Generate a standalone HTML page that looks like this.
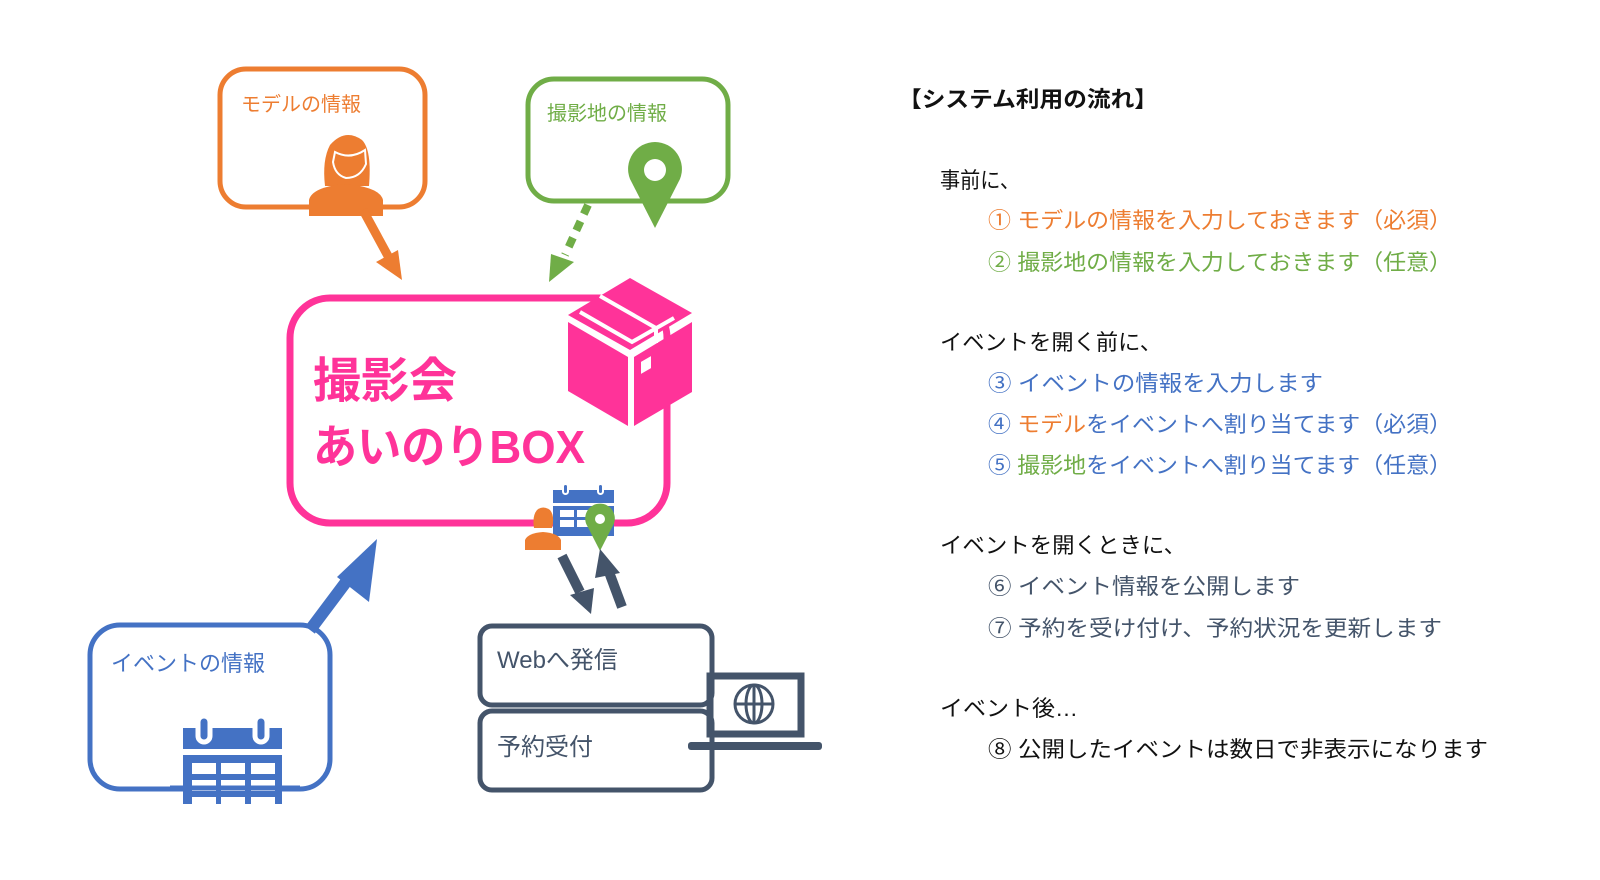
<!DOCTYPE html>
<html><head><meta charset="utf-8"><style>
html,body{margin:0;padding:0;background:#fff;width:1600px;height:880px;overflow:hidden}
svg{display:block}
text{font-family:"Liberation Sans","Noto Sans CJK JP",sans-serif}
</style></head><body>
<svg width="1600" height="880" viewBox="0 0 1600 880" xmlns="http://www.w3.org/2000/svg">
<defs>
<g id="pin"><path d="M0,-28 A27,27 0 0 1 25,9 L0,58 L-25,9 A27,27 0 0 1 0,-28 Z"/></g>
</defs>
<!-- Orange box -->
<rect x="220" y="69" width="205" height="138" rx="26" fill="none" stroke="#ED7D31" stroke-width="5"/>
<text x="241" y="111" font-size="20" fill="#ED7D31">モデルの情報</text>
<g fill="#ED7D31">
<path d="M325,186 Q322,160 330,145 Q345,128 362,140 Q372,150 369,186 Z"/>
<path d="M309,216 L309,200 Q312,187 345,184 Q380,187 383,200 L383,216 Z"/>
</g>
<path d="M335,152 Q350,160 365,150 L366,164 Q360,178 346,178 Q335,175 333,162 Z" fill="#ED7D31" stroke="#fff" stroke-width="2"/>
<!-- Green box -->
<rect x="528" y="79" width="200" height="122" rx="26" fill="none" stroke="#70AD47" stroke-width="5"/>
<text x="547" y="120" font-size="20" fill="#70AD47">撮影地の情報</text>
<g fill="#70AD47" transform="translate(655,170)"><use href="#pin"/></g>
<circle cx="655" cy="170" r="11" fill="#fff"/>
<!-- Orange arrow -->
<line x1="363" y1="210" x2="388" y2="256" stroke="#ED7D31" stroke-width="9"/>
<polygon points="402,280 376,262 398,250" fill="#ED7D31"/>
<!-- Green dashed arrow -->
<line x1="588" y1="205" x2="565" y2="255" stroke="#70AD47" stroke-width="8" stroke-dasharray="10,8"/>
<polygon points="549,282 551,254 574,262" fill="#70AD47"/>
<!-- Pink box -->
<rect x="290" y="298" width="377" height="225" rx="40" fill="none" stroke="#FF3399" stroke-width="7"/>
<text x="313" y="397" font-size="48" font-weight="bold" fill="#FF3399">撮影会</text>
<text x="313" y="463" font-size="46" font-weight="bold" fill="#FF3399" textLength="272" lengthAdjust="spacingAndGlyphs">あいのりBOX</text>
<!-- box icon -->
<g fill="#FF3399">
<polygon points="568,315 630,278 692,313 630,350"/>
<polygon points="568,322 628,357 628,426 568,391"/>
<polygon points="634,357 692,322 692,392 634,426"/>
</g>
<polyline points="580,312 632,342 674,318" fill="none" stroke="#fff" stroke-width="4"/>
<polyline points="600,296 656,328 656,343" fill="none" stroke="#fff" stroke-width="4"/>
<rect x="641" y="362" width="10" height="12" fill="#fff" transform="skewY(-30) translate(0,370)"/>
<!-- small calendar -->
<g fill="#4472C4">
<rect x="553" y="490" width="61" height="13"/>
<rect x="553" y="506" width="61" height="30"/>
</g>
<g fill="#fff">
<rect x="560" y="510" width="14" height="7"/><rect x="577" y="510" width="14" height="7"/><rect x="594" y="510" width="14" height="7"/>
<rect x="560" y="520" width="14" height="7"/><rect x="577" y="520" width="14" height="7"/><rect x="594" y="520" width="14" height="7"/>
</g>
<rect x="563" y="484" width="5" height="10" rx="2.5" fill="#4472C4" stroke="#fff" stroke-width="2"/>
<rect x="598" y="484" width="5" height="10" rx="2.5" fill="#4472C4" stroke="#fff" stroke-width="2"/>
<!-- small person -->
<g fill="#ED7D31">
<path d="M534,528 Q532,516 537,510 Q543,505 550,510 Q555,516 552,528 Z"/>
<path d="M525,550 L525,540 Q528,533 543,532 Q558,533 561,540 L561,550 Z"/>
</g>
<!-- small pin -->
<g fill="#70AD47" transform="translate(600,519) scale(0.55)"><use href="#pin"/></g>
<circle cx="600" cy="519" r="5" fill="#fff"/>
<!-- dark arrows -->
<line x1="562" y1="556" x2="580" y2="592" stroke="#44546A" stroke-width="10"/>
<polygon points="591,614 570,595 594,588" fill="#44546A"/>
<line x1="622" y1="607" x2="609" y2="572" stroke="#44546A" stroke-width="10"/>
<polygon points="600,549 620,573 595,578" fill="#44546A"/>
<!-- blue arrow -->
<line x1="310" y1="630" x2="358" y2="566" stroke="#4472C4" stroke-width="12"/>
<polygon points="377,539 369,602 337,577" fill="#4472C4"/>
<!-- Blue box -->
<rect x="90" y="625" width="240" height="164" rx="30" fill="none" stroke="#4472C4" stroke-width="5"/>
<text x="111" y="671" font-size="22" fill="#4472C4">イベントの情報</text>
<g fill="#4472C4">
<rect x="183" y="728" width="99" height="21"/>
<rect x="183" y="755" width="99" height="49"/>
</g>
<g fill="#fff">
<rect x="192" y="763" width="24" height="11"/><rect x="221" y="763" width="24" height="11"/><rect x="251" y="763" width="24" height="11"/>
<rect x="192" y="780" width="24" height="11"/><rect x="221" y="780" width="24" height="11"/><rect x="251" y="780" width="24" height="11"/>
<rect x="192" y="797" width="24" height="7"/><rect x="221" y="797" width="24" height="7"/><rect x="251" y="797" width="24" height="7"/>
</g>
<rect x="198" y="716" width="12" height="26" rx="6" fill="#4472C4" stroke="#fff" stroke-width="5"/>
<rect x="255" y="716" width="12" height="26" rx="6" fill="#4472C4" stroke="#fff" stroke-width="5"/>
<line x1="170" y1="788" x2="300" y2="788" stroke="#4472C4" stroke-width="5"/>
<!-- web boxes -->
<rect x="480" y="626" width="232" height="79" rx="12" fill="none" stroke="#44546A" stroke-width="5"/>
<rect x="480" y="711" width="232" height="79" rx="12" fill="none" stroke="#44546A" stroke-width="5"/>
<text x="497" y="668" font-size="24" fill="#44546A">Webへ発信</text>
<text x="497" y="755" font-size="24" fill="#44546A">予約受付</text>
<!-- laptop -->
<rect x="710" y="676" width="91" height="58" fill="none" stroke="#44546A" stroke-width="7"/>
<rect x="688" y="742" width="134" height="8" rx="3" fill="#44546A"/>
<circle cx="754" cy="704" r="19" fill="none" stroke="#44546A" stroke-width="3"/>
<ellipse cx="754" cy="704" rx="8" ry="19" fill="none" stroke="#44546A" stroke-width="3"/>
<line x1="735" y1="704" x2="773" y2="704" stroke="#44546A" stroke-width="3"/>
<line x1="754" y1="685" x2="754" y2="723" stroke="#44546A" stroke-width="3"/>
<!-- right text -->
<text x="898" y="107" font-size="22" font-weight="bold" fill="#111" textLength="260" lengthAdjust="spacingAndGlyphs">【システム利用の流れ】</text>
<g font-size="22" fill="#111">
<text x="940" y="188" textLength="80" lengthAdjust="spacingAndGlyphs">事前に、</text>
<text x="940" y="350" textLength="222" lengthAdjust="spacingAndGlyphs">イベントを開く前に、</text>
<text x="940" y="553" textLength="246" lengthAdjust="spacingAndGlyphs">イベントを開くときに、</text>
<text x="940" y="716" textLength="138" lengthAdjust="spacingAndGlyphs">イベント後…</text>
</g>
<g font-size="22">
<text x="988" y="228" fill="#ED7D31" textLength="464" lengthAdjust="spacingAndGlyphs">① モデルの情報を入力しておきます（必須）</text>
<text x="988" y="270" fill="#70AD47" textLength="464" lengthAdjust="spacingAndGlyphs">② 撮影地の情報を入力しておきます（任意）</text>
<text x="988" y="391" fill="#4472C4" textLength="335" lengthAdjust="spacingAndGlyphs">③ イベントの情報を入力します</text>
<text x="988" y="432" fill="#4472C4" textLength="464" lengthAdjust="spacingAndGlyphs">④ <tspan fill="#ED7D31">モデル</tspan>をイベントへ割り当てます（必須）</text>
<text x="988" y="473" fill="#4472C4" textLength="464" lengthAdjust="spacingAndGlyphs">⑤ <tspan fill="#70AD47">撮影地</tspan>をイベントへ割り当てます（任意）</text>
<text x="988" y="594" fill="#44546A" textLength="312" lengthAdjust="spacingAndGlyphs">⑥ イベント情報を公開します</text>
<text x="988" y="636" fill="#44546A" textLength="454" lengthAdjust="spacingAndGlyphs">⑦ 予約を受け付け、予約状況を更新します</text>
<text x="988" y="757" fill="#111" textLength="500" lengthAdjust="spacingAndGlyphs">⑧ 公開したイベントは数日で非表示になります</text>
</g>
</svg>
</body></html>
